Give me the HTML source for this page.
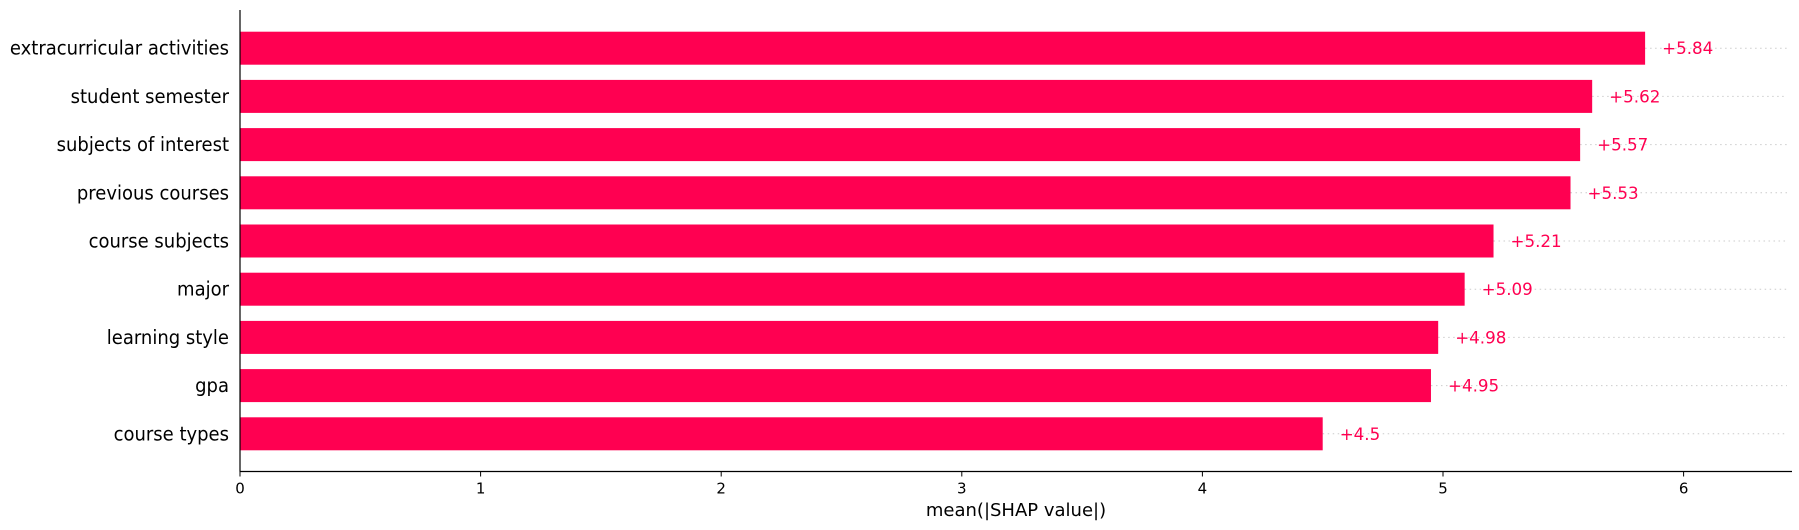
<!DOCTYPE html>
<html><head><meta charset="utf-8"><style>
html,body{margin:0;padding:0;background:#fff;}
svg{display:block;font-family:"DejaVu Sans","Liberation Sans",sans-serif;}
</style></head><body>
<svg id="chart" width="1799" height="530" viewBox="0 0 1799 530" xmlns="http://www.w3.org/2000/svg">
<g id="grid"></g>
<g id="bars"></g>
<g id="ylabels"></g>
<g id="vals"></g>
<g id="xaxis"></g>
<line x1="240" y1="10" x2="240" y2="471.5" stroke="#000" stroke-width="1.2"/>
<text x="1016" y="516" font-size="18" text-anchor="middle" fill="#000">mean(|SHAP value|)</text>
</svg>
<script>
const categories = ["extracurricular activities","student semester","subjects of interest","previous courses","course subjects","major","learning style","gpa","course types"];
const values = [5.84,5.62,5.57,5.53,5.21,5.09,4.98,4.95,4.5];
const valueLabels = ["+5.84","+5.62","+5.57","+5.53","+5.21","+5.09","+4.98","+4.95","+4.5"];
const xTicks = [0,1,2,3,4,5,6];

const NS="http://www.w3.org/2000/svg";
const x0=240, unit=240.6, xEnd=1792, gridEnd=1787, axisY=471.5;
const y0=48.2, step=48.2, barH=33;
const xs=v=>x0+v*unit;
const ys=i=>y0+i*step;
function mk(tag,attrs,parent){const e=document.createElementNS(NS,tag);for(const k in attrs)e.setAttribute(k,attrs[k]);parent.appendChild(e);return e;}
const gGrid=document.getElementById('grid'),gBars=document.getElementById('bars'),gY=document.getElementById('ylabels'),gV=document.getElementById('vals'),gX=document.getElementById('xaxis');
categories.forEach((c,i)=>{
  const cy=ys(i), v=values[i];
  const gl=mk('line',{x1:xs(v),y1:cy,x2:gridEnd,y2:cy,stroke:'#ccc','stroke-width':1,'stroke-dasharray':'1.5,3.5'},gGrid);
  
  
  const r=mk('rect',{x:x0,y:cy-barH/2,width:xs(v)-x0,height:barH,fill:'#ff0051'},gBars);
  
  
  const t=mk('text',{x:0,y:0,'font-size':18,'text-anchor':'end',fill:'#000',transform:'translate(229,'+(cy+6.5)+') scale(1,1.1)'},gY);
  t.textContent=c;
  
  
  const vt=mk('text',{x:xs(v)+17,y:cy+6,'font-size':16.7,fill:'#ff0051'},gV);
  vt.textContent=valueLabels[i];
  
  
});
const ax=mk('line',{x1:x0,y1:axisY,x2:xEnd,y2:axisY,stroke:'#000','stroke-width':1.2},gX);


xTicks.forEach(t=>{
  const x=xs(t);
  const tk=mk('line',{x1:x,y1:axisY,x2:x,y2:axisY+5,stroke:'#000','stroke-width':1},gX);
  
  
  const tl=mk('text',{x:x,y:axisY+22,'font-size':15,'text-anchor':'middle',fill:'#000'},gX);
  tl.textContent=String(t);
  
  
});
</script>
</body></html>
